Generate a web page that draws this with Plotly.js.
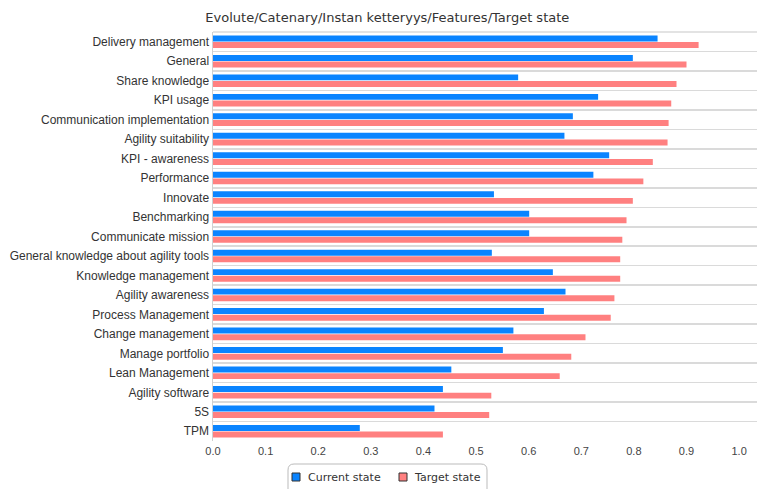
<!DOCTYPE html>
<html>
<head>
<meta charset="utf-8">
<script src="https://cdn.plot.ly/plotly-3.0.1.min.js"></script>
<style>html,body{margin:0;padding:0;background:#fff;}#chart{width:758px;height:489px;}</style>
</head>
<body>
<div id="chart"></div>
<script>
const categories = [
  "Delivery management", "General", "Share knowledge", "KPI usage",
  "Communication implementation", "Agility suitability", "KPI - awareness",
  "Performance", "Innovate", "Benchmarking", "Communicate mission",
  "General knowledge about agility tools", "Knowledge management",
  "Agility awareness", "Process Management", "Change management",
  "Manage portfolio", "Lean Management", "Agility software", "5S", "TPM"
];
const currentState = [0.845, 0.798, 0.580, 0.732, 0.684, 0.668, 0.753, 0.723, 0.534, 0.601, 0.601,
  0.530, 0.646, 0.670, 0.629, 0.571, 0.551, 0.453, 0.437, 0.421, 0.279];
const targetState = [0.923, 0.900, 0.881, 0.871, 0.866, 0.864, 0.836, 0.818, 0.798, 0.786, 0.778,
  0.774, 0.774, 0.763, 0.756, 0.708, 0.681, 0.659, 0.529, 0.525, 0.437];
const xTicks = [0, 0.1, 0.2, 0.3, 0.4, 0.5, 0.6, 0.7, 0.8, 0.9, 1.0];
const seriesNames = ["Current state", "Target state"];
const seriesColors = ["#0a84ff", "#ff8080"];
const chartTitle = "Evolute/Catenary/Instan ketteryys/Features/Target state";

const traces = [
  {type: "bar", orientation: "h", name: seriesNames[0], y: categories, x: currentState,
   marker: {color: seriesColors[0], line: {width: 0}}, hoverinfo: "x+y"},
  {type: "bar", orientation: "h", name: seriesNames[1], y: categories, x: targetState,
   marker: {color: seriesColors[1], line: {width: 0}}, hoverinfo: "x+y"}
];

// custom legend (paper coordinates; plot area spans 544 x 409 px)
const PW = 544, PH = 409;
const px = v => (v - 213) / PW;          // page x -> paper x
const py = v => (441 - v) / PH;          // page y -> paper y
const legendItems = [
  {sq: 296, tx: 306},
  {sq: 403, tx: 412}
];
const shapes = [
  {type: "path", xref: "paper", yref: "paper",
   path: `M ${px(288)} ${py(500)} L ${px(288)} ${py(470)} Q ${px(288)} ${py(464)} ${px(294)} ${py(464)} L ${px(481)} ${py(464)} Q ${px(487)} ${py(464)} ${px(487)} ${py(470)} L ${px(487)} ${py(500)}`,
   line: {color: "#bbbbbb", width: 1}, fillcolor: "rgba(0,0,0,0)"},
  {type: "line", xref: "paper", yref: "paper", x0: 0, x1: 1, y0: 1, y1: 1,
   line: {color: "#dadada", width: 1.5}}
];
const annotations = [];
legendItems.forEach((it, i) => {
  shapes.push({type: "rect", xref: "paper", yref: "paper",
    x0: px(it.sq - 4), x1: px(it.sq + 4), y0: py(481), y1: py(473),
    fillcolor: seriesColors[i], line: {color: "#333333", width: 1}});
  annotations.push({xref: "paper", yref: "paper", x: px(it.tx), y: py(477),
    xanchor: "left", yanchor: "middle", showarrow: false, text: seriesNames[i],
    font: {family: "DejaVu Sans", size: 11, color: "#333333"}});
});

const layout = {
  width: 758, height: 489,
  paper_bgcolor: "#ffffff", plot_bgcolor: "#ffffff",
  margin: {l: 213, r: 1, t: 32, b: 48, pad: 0},
  title: {text: chartTitle, x: 0.511, xanchor: "center", y: 0.974, yanchor: "top",
          font: {family: "DejaVu Sans", size: 13, color: "#333333"}},
  barmode: "group", bargap: 0.32, bargroupgap: 0.1,
  showlegend: false,
  xaxis: {range: [0, 1.034], tickvals: xTicks, tickformat: ".1f", showgrid: false,
          zeroline: false, showline: false, ticks: "", ticklabelstandoff: 2,
          tickfont: {family: "Liberation Sans", size: 11, color: "#444444"}},
  yaxis: {type: "category", autorange: "reversed", tickson: "boundaries", showgrid: true,
          gridcolor: "#dadada", gridwidth: 1.5, ticks: "", showline: true, linecolor: "#d0d0d0",
          linewidth: 1.5, zeroline: false, ticklabelstandoff: 0,
          tickfont: {family: "Liberation Sans", size: 12, color: "#333333"}},
  shapes: shapes,
  annotations: annotations
};

Plotly.newPlot("chart", traces, layout, {displayModeBar: false, staticPlot: true});
</script>
</body>
</html>
